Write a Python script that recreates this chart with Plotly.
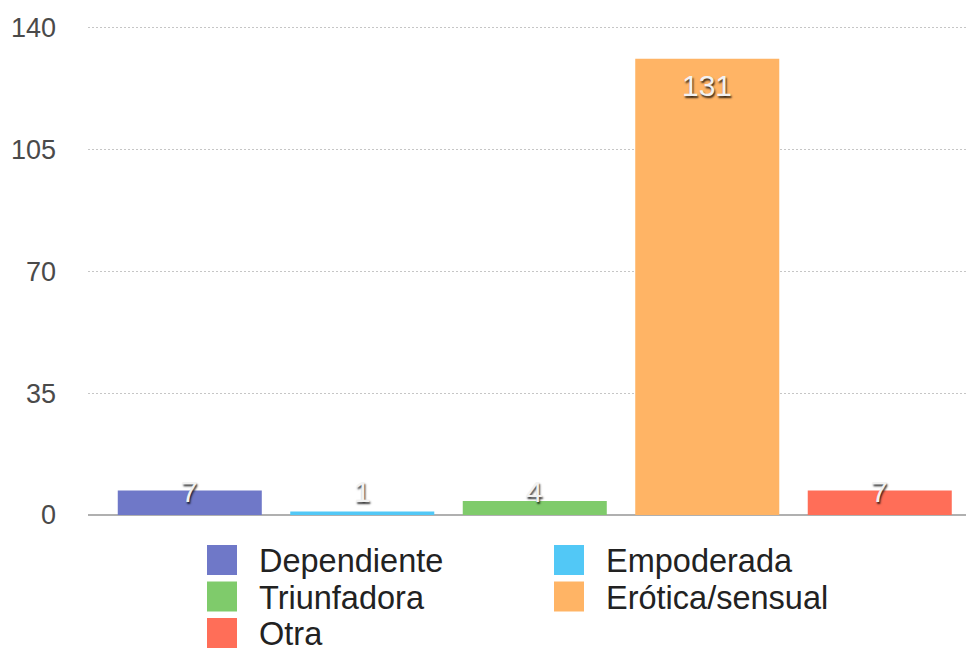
import plotly.graph_objects as go

# Data
categories = ["Dependiente", "Empoderada", "Triunfadora", "Erótica/sensual", "Otra"]
counts = [7, 1, 4, 131, 7]
colors = ["#6f78c8", "#52c8f6", "#7fcb6b", "#ffb465", "#ff6e58"]
y_ticks = [0, 35, 70, 105, 140]

W, H = 971, 652
M_L, M_R, M_T, M_B = 88, 5, 24, 137
PLOT_W = W - M_L - M_R
PLOT_H = H - M_T - M_B
Y_MAX = 141
FONT = "Liberation Sans, Arial, sans-serif"

fig = go.Figure()
for cat, val, col in zip(categories, counts, colors):
    fig.add_trace(go.Bar(
        x=[cat], y=[val], name=cat,
        marker=dict(color=col, line=dict(width=0)),
        width=0.835, showlegend=False,
        hoverinfo="x+y",
    ))

# Value labels sit just under the bar top, with a floor for short bars
for cat, val in zip(categories, counts):
    fig.add_annotation(
        x=cat, y=max(val - 7.6, 6.7), xref="x", yref="y",
        text=str(val), showarrow=False, yanchor="middle",
        font=dict(family=FONT, size=30, color="#f2f2f2",
                  shadow="1px 2px 2px rgba(0,0,0,0.8)"),
    )

# Legend: two columns of large colour squares with labels
def px_x(px):
    return (px - M_L) / PLOT_W

def px_y(py):
    return (H - M_B - py) / PLOT_H

col_x = [207, 554]
row_top0, row_pitch, sq = 545, 36.5, 30
for i, (cat, col) in enumerate(zip(categories, colors)):
    r, c = divmod(i, 2)
    x0 = col_x[c]
    top = row_top0 + r * row_pitch
    fig.add_shape(type="rect", xref="paper", yref="paper",
                  x0=px_x(x0), x1=px_x(x0 + sq),
                  y0=px_y(top + sq), y1=px_y(top),
                  fillcolor=col, line=dict(width=0), layer="above")
    fig.add_annotation(xref="paper", yref="paper",
                       x=px_x(x0 + 51), y=px_y(top + sq / 2 + 1),
                       text=cat, showarrow=False, xanchor="left", yanchor="middle",
                       borderpad=0,
                       font=dict(family=FONT, size=32.5, color="#222222"))

fig.update_layout(
    width=W, height=H,
    margin=dict(l=M_L, r=M_R, t=M_T, b=M_B, pad=0),
    paper_bgcolor="white", plot_bgcolor="white",
    barmode="overlay",
    showlegend=False,
    xaxis=dict(
        type="category", range=[-0.59, 4.5],
        showticklabels=False, showgrid=False, zeroline=False,
        showline=False, ticks="", fixedrange=True,
    ),
    yaxis=dict(
        range=[0, Y_MAX], tickvals=y_ticks,
        showgrid=True, gridcolor="#c6c6c6", gridwidth=1, griddash="2px,2px",
        zeroline=True, zerolinecolor="#b0b0b0", zerolinewidth=1.5,
        showline=False, ticks="",
        tickfont=dict(family=FONT, size=27, color="#4a4a4a"),
        ticklabelstandoff=31,
    ),
)

fig.write_html("out.html")
